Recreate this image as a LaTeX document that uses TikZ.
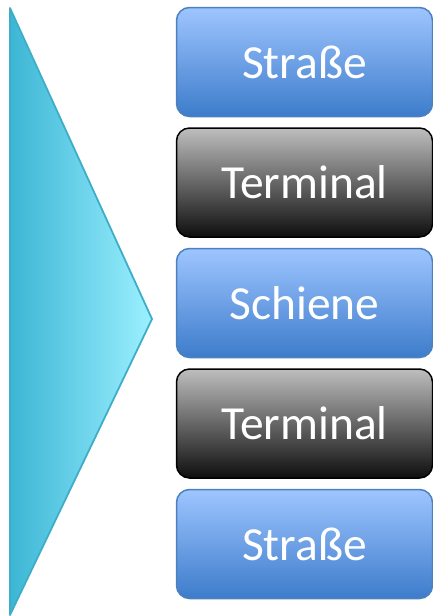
\documentclass[tikz,border=0pt]{standalone}
\usepackage{fontspec}
\setmainfont{Carlito}
\usetikzlibrary{positioning}
\definecolor{bluetop}{HTML}{9EC5FF}
\definecolor{bluebot}{HTML}{3D7CCB}
\definecolor{blueedge}{HTML}{4C80BE}
\definecolor{graytop}{HTML}{BEBEBE}
\definecolor{graybot}{HTML}{0E0E0E}
\definecolor{arrowleft}{HTML}{3CB6D5}
\definecolor{arrowmid}{HTML}{4CBFDC}
\definecolor{arrowright}{HTML}{9CF0FF}
\definecolor{arrowedge}{HTML}{3EADC8}
\tikzset{
  modebox/.style={rounded corners=13pt, line width=1.5pt, outer sep=0pt,
    minimum width=256pt, minimum height=109pt, text=white,
    font=\fontsize{47.5}{47.5}\selectfont},
  road/.style={modebox, draw=blueedge, top color=bluetop, bottom color=bluebot},
  hub/.style={modebox, draw=black, top color=graytop, bottom color=graybot},
}
\begin{document}
\begin{tikzpicture}[x=1pt, y=-1pt, node distance=11.5pt]
  \useasboundingbox (0,0) rectangle (433,616);
  \draw[line width=1.8pt, draw=arrowedge, left color=arrowleft, middle color=arrowmid,
    right color=arrowright, line join=round] (10,8) -- (152,319) -- (10,615) -- cycle;
  \node[road] (strasseA) at (304.5,62) {Straße};
  \node[hub, below=of strasseA] (terminalA) {Terminal};
  \node[road, below=of terminalA] (schiene) {Schiene};
  \node[hub, below=of schiene] (terminalB) {Terminal};
  \node[road, below=of terminalB] (strasseB) {Straße};
\end{tikzpicture}
\end{document}
